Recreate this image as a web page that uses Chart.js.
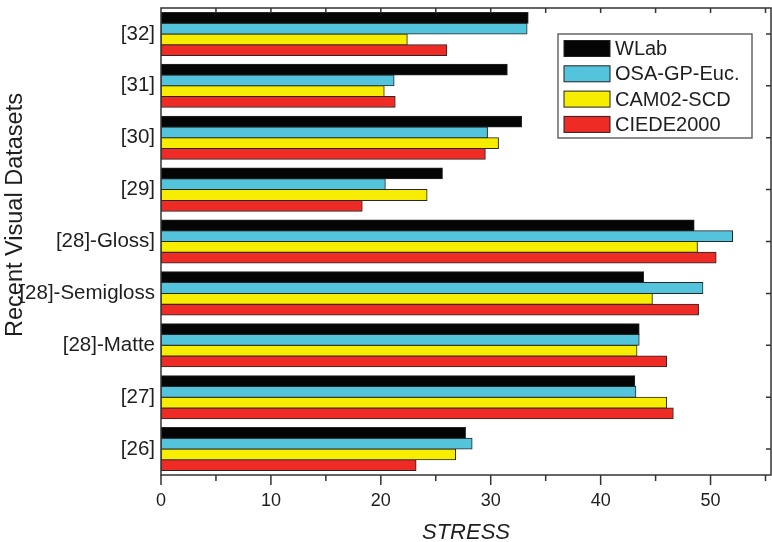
<!DOCTYPE html>
<html>
<head>
<meta charset="utf-8">
<title>STRESS by dataset</title>
<script src="https://cdn.jsdelivr.net/npm/chart.js@4.4.1/dist/chart.umd.min.js"></script>
<style>
    html, body { margin: 0; padding: 0; background: #fff; }
    canvas { display: block; }
</style>
</head>
<body>
<canvas id="chartStress" width="772" height="542"></canvas>
<script>
// Datasets (top to bottom) and STRESS values per colour-difference formula
const categories = ['[32]', '[31]', '[30]', '[29]', '[28]-Gloss]', '[28]-Semigloss', '[28]-Matte', '[27]', '[26]'];
const seriesNames = ['WLab', 'OSA-GP-Euc.', 'CAM02-SCD', 'CIEDE2000'];
const wlab  = [33.4, 31.5, 32.8, 25.6, 48.5, 43.9, 43.5, 43.1, 27.7];
const osa   = [33.3, 21.2, 29.7, 20.4, 52.0, 49.3, 43.5, 43.2, 28.3];
const cam02 = [22.4, 20.3, 30.7, 24.2, 48.8, 44.7, 43.3, 46.0, 26.8];
const ciede = [26.0, 21.3, 29.5, 18.3, 50.5, 48.9, 46.0, 46.6, 23.2];
const xTicks = [0, 10, 20, 30, 40, 50];

const colors = ['#050505', '#54c4dd', '#f7ed00', '#ee2b25'];
const FONT = "'Liberation Sans', Arial, Helvetica, sans-serif";
const INK = '#1e1e1e';

// Frame, tick marks, y title and the boxed legend
const framePlugin = {
    id: 'frame',
    afterDraw(chart) {
        const { ctx, chartArea: a, scales } = chart;
        const x = scales.x, y = scales.y;
        ctx.save();
        ctx.strokeStyle = '#333';
        ctx.lineWidth = 1.5;
        ctx.strokeRect(a.left, a.top, a.right - a.left, a.bottom - a.top);

        ctx.beginPath();
        for (let v = 0; v <= 55; v += 5) {
            const px = x.getPixelForValue(v);
            const len = v % 10 === 0 ? 10 : 6;
            ctx.moveTo(px, a.bottom);
            ctx.lineTo(px, a.bottom + len);
            if (v > 0) {
                ctx.moveTo(px, a.top);
                ctx.lineTo(px, a.top + 5);
            }
        }
        categories.forEach((c, i) => {
            const py = y.getPixelForValue(i);
            ctx.moveTo(a.right - 5, py);
            ctx.lineTo(a.right, py);
        });
        ctx.stroke();

        // y axis title
        ctx.fillStyle = INK;
        ctx.font = '23.5px ' + FONT;
        ctx.textAlign = 'center';
        ctx.textBaseline = 'middle';
        ctx.translate(16, 215);
        ctx.rotate(-Math.PI / 2);
        ctx.fillText('Recent Visual Datasets', 0, 0);
        ctx.restore();

        // legend
        ctx.save();
        const lx = a.right - 213, ly = a.top + 26;
        ctx.fillStyle = '#fff';
        ctx.fillRect(lx, ly, 194, 104);
        ctx.strokeStyle = '#666';
        ctx.lineWidth = 1.5;
        ctx.strokeRect(lx, ly, 194, 104);
        ctx.font = '20px ' + FONT;
        ctx.textAlign = 'left';
        ctx.textBaseline = 'middle';
        chart.data.datasets.forEach((ds, i) => {
            const cy = ly + 14.5 + i * 25.3;
            ctx.fillStyle = ds.backgroundColor;
            ctx.fillRect(lx + 6, cy - 8, 46, 16);
            ctx.strokeStyle = '#222';
            ctx.lineWidth = 1;
            ctx.strokeRect(lx + 6, cy - 8, 46, 16);
            ctx.fillStyle = INK;
            ctx.fillText(ds.label, lx + 57, cy + 1);
        });
        ctx.restore();
    }
};

const ctx = document.getElementById('chartStress').getContext('2d');
new Chart(ctx, {
    type: 'bar',
    data: {
        labels: categories,
        datasets: [wlab, osa, cam02, ciede].map((values, i) => ({
            label: seriesNames[i],
            data: values,
            backgroundColor: colors[i],
            borderColor: '#262626',
            borderWidth: 1,
            borderSkipped: false,
            inflateAmount: 0.5,
            categoryPercentage: 0.83,
            barPercentage: 1.0
        }))
    },
    options: {
        indexAxis: 'y',
        responsive: false,
        animation: false,
        devicePixelRatio: 1,
        layout: { padding: { top: 8, right: 1, left: 0, bottom: 0 } },
        plugins: {
            legend: { display: false },
            tooltip: { enabled: false }
        },
        scales: {
            x: {
                min: 0,
                max: 55.5,
                afterFit: scale => { scale.height = 67; },
                afterBuildTicks: scale => { scale.ticks = xTicks.map(v => ({ value: v })); },
                grid: { display: false, drawTicks: false },
                border: { display: false },
                ticks: { color: INK, font: { family: FONT, size: 18 }, padding: 15 },
                title: {
                    display: true,
                    text: 'STRESS',
                    color: INK,
                    font: { family: FONT, size: 22, style: 'italic' },
                    padding: { top: 0, bottom: -4 }
                }
            },
            y: {
                afterFit: scale => {
                    scale.width = 161;
                    scale.paddingTop = 0;
                    scale.paddingBottom = 0;
                },
                grid: { display: false, drawTicks: false },
                border: { display: false },
                ticks: { color: INK, font: { family: FONT, size: 20.5 }, padding: 6, autoSkip: false }
            }
        }
    },
    plugins: [framePlugin]
});
</script>
</body>
</html>
